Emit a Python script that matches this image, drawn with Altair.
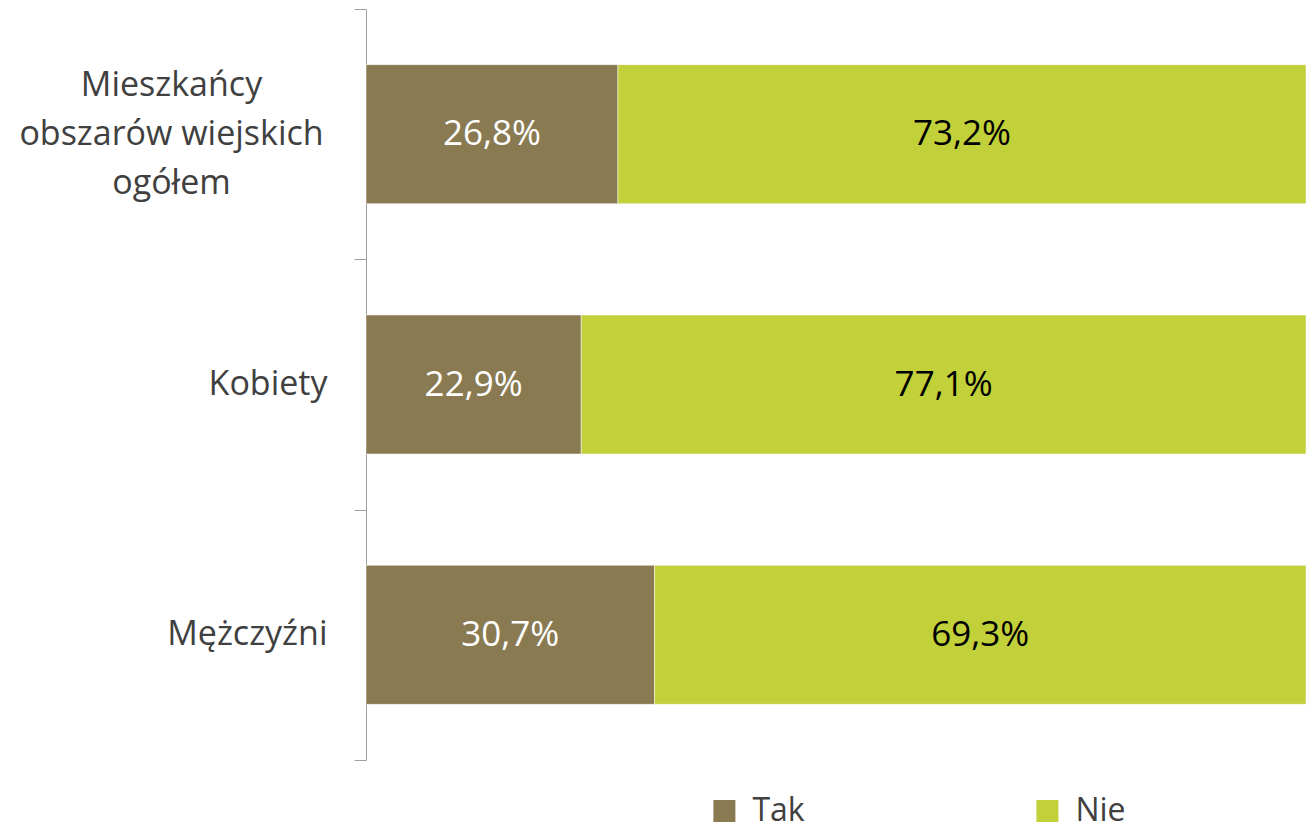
import altair as alt
import pandas as pd

categories = ["Mieszkańcy obszarów wiejskich ogółem", "Kobiety", "Mężczyźni"]
answers = ["Tak", "Nie"]
tak_values = [26.8, 22.9, 30.7]
nie_values = [73.2, 77.1, 69.3]
colors = ["#8A7A52", "#C2D03A"]

rows = []
for c, t, n in zip(categories, tak_values, nie_values):
    for i, (a, v) in enumerate(zip(answers, [t, n])):
        rows.append({"cat": c, "answer": a, "value": v, "idx": i,
                     "label": f"{v:.1f}".replace(".", ",") + "%"})
df = pd.DataFrame(rows)

multi = "datum.value == 'Mieszkańcy obszarów wiejskich ogółem'"

y_enc = alt.Y(
    "cat:N", sort=categories, title=None,
    scale=alt.Scale(paddingInner=0, paddingOuter=0),
    axis=alt.Axis(
        labelFont="Open Sans", labelFontSize=34, labelColor="#404040",
        labelExpr=f"{multi} ? ['Mieszkańcy', 'obszarów wiejskich', 'ogółem'] : datum.value",
        labelLineHeight=49, labelLimit=0,
        labelAlign={"condition": {"test": multi, "value": "center"}, "value": "right"},
        labelPadding={"condition": {"test": multi, "value": 183}, "value": 27},
        labelOffset={"condition": {"test": multi, "value": -49}, "value": 0},
        tickSize=12, tickColor="#A0A0A0", domainColor="#A0A0A0",
        tickWidth=1, domainWidth=1, tickBand="extent", grid=False,
    ),
)

base = alt.Chart(df).transform_stack(
    stack="value", as_=["x0", "x1"], groupby=["cat"],
    sort=[alt.SortField("idx", order="ascending")],
).transform_calculate(mid="(datum.x0 + datum.x1) / 2")

bars = base.mark_bar(stroke="white", strokeWidth=0.5, size=139).encode(
    y=y_enc,
    x=alt.X("x0:Q", scale=alt.Scale(domain=[0, 100], nice=False, zero=True), axis=None),
    x2="x1:Q",
    color=alt.Color(
        "answer:N",
        scale=alt.Scale(domain=answers, range=colors),
        legend=alt.Legend(
            title=None, orient="none", legendX=342.4, legendY=786,
            direction="horizontal", labelFont="Open Sans", labelFontSize=32,
            labelColor="#404040", symbolType="square", symbolSize=484,
            symbolStrokeWidth=0, symbolOpacity=1, labelOffset=12,
            columnPadding=226, padding=0,
        ),
    ),
    order=alt.Order("idx:Q"),
)

text = base.mark_text(font="Open Sans", fontSize=35, align="center", baseline="middle").encode(
    y=alt.Y("cat:N", sort=categories),
    x=alt.X("mid:Q"),
    text="label:N",
    color=alt.condition(alt.datum.answer == "Tak", alt.value("white"), alt.value("black")),
)

chart = alt.layer(bars, text).properties(
    width=940, height=751,
    autosize=alt.AutoSizeParams(type="none"),
    padding={"left": 358, "top": 1, "right": 0, "bottom": 70},
).configure_view(stroke=None)

chart.save("out.html", embed_options={"renderer": "svg", "actions": False})
